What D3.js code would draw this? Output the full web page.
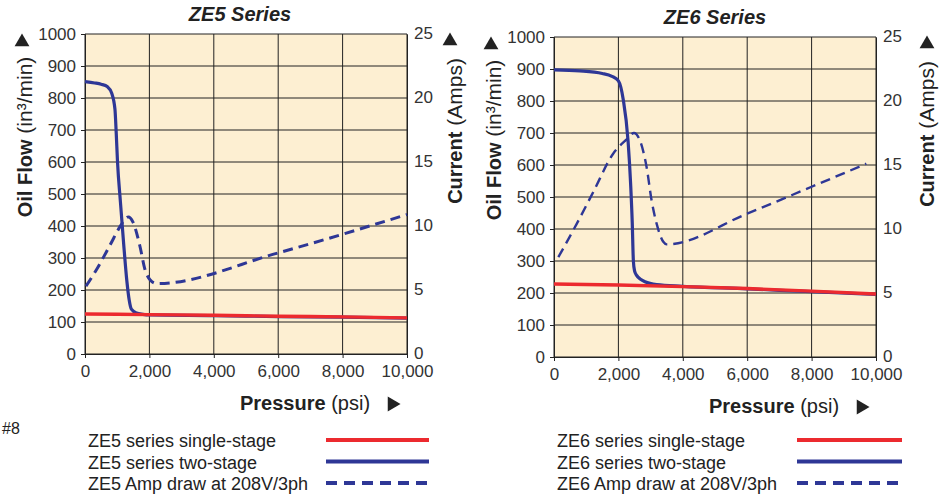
<!DOCTYPE html>
<html>
<head>
<meta charset="utf-8">
<script src="https://d3js.org/d3.v7.min.js"></script>
<style>
  body { margin: 0; background: #fff; }
  text { font-family: "Liberation Sans", Arial, sans-serif; }
</style>
</head>
<body>
<div id="chart"></div>
<script>
// tick values
var pressureTicks = [0, 2000, 4000, 6000, 8000, 10000];
var flowTicks = [0, 100, 200, 300, 400, 500, 600, 700, 800, 900, 1000];
var ampTicks = [0, 5, 10, 15, 20, 25];

// ZE5 series, [psi, value]
var ze5Single = [[0, 125], [2000, 123], [4000, 121], [6000, 118], [8000, 116], [10000, 113]];
var ze5Two = [[0, 851], [300, 847], [500, 843], [700, 835], [830, 815], [930, 765],
  [970, 690], [1010, 600], [1100, 475], [1200, 345], [1300, 228], [1370, 170],
  [1440, 140], [1600, 128], [1800, 124], [2000, 122], [4000, 120], [6000, 117],
  [8000, 115], [10000, 112]];
var ze5Amps = [[30, 5.3], [360, 6.6], [776, 8.5], [1087, 9.95], [1250, 10.55], [1346, 10.7],
  [1490, 10.3], [1708, 8.4], [1863, 6.6], [2019, 5.8], [2226, 5.5], [6000, 7.9], [10000, 10.9]];

// ZE6 series
var ze6Single = [[0, 228], [2000, 225], [4000, 220], [6000, 214], [8000, 206], [10000, 197]];
var ze6Two = [[0, 897], [800, 894], [1500, 886], [1800, 877], [2000, 863], [2150, 805],
  [2300, 675], [2380, 540], [2430, 420], [2465, 300], [2500, 270], [2567, 255],
  [2700, 242], [2826, 235], [3189, 226], [4000, 221], [6000, 213], [8000, 204], [10000, 196]];
var ze6Amps = [[134, 7.8], [705, 10.4], [1221, 12.9], [1842, 15.9], [2257, 17.0], [2484, 17.5],
  [2671, 16.9], [2878, 14.8], [3033, 12.2], [3189, 10.4], [3395, 9.0], [3500, 8.8],
  [6000, 11.2], [8000, 13.3], [9700, 15.1]];

var legendLabels5 = ["ZE5 series single-stage", "ZE5 series two-stage", "ZE5 Amp draw at 208V/3ph"];
var legendLabels6 = ["ZE6 series single-stage", "ZE6 series two-stage", "ZE6 Amp draw at 208V/3ph"];

var red = "#ec2a2f", blue = "#2e3796", bg = "#fdefd2", ink = "#222";

var svg = d3.select("#chart").append("svg")
  .attr("width", 948)
  .attr("height", 495);

function panel(o) {
  var x = d3.scaleLinear().domain([0, 10000]).range([o.x0, o.x1]);
  var y = d3.scaleLinear().domain([0, 1000]).range([o.y1, o.y0]);
  var ya = d3.scaleLinear().domain([0, 25]).range([o.y1, o.y0]);
  var g = svg.append("g");

  g.append("rect")
    .attr("x", o.x0).attr("y", o.y0)
    .attr("width", o.x1 - o.x0).attr("height", o.y1 - o.y0)
    .attr("fill", bg);

  // grid
  g.selectAll(".hg").data(flowTicks).enter().append("line")
    .attr("x1", o.x0).attr("x2", o.x1)
    .attr("y1", function(d) { return y(d); }).attr("y2", function(d) { return y(d); })
    .attr("stroke", ink).attr("stroke-width", 1);
  g.selectAll(".vg").data(pressureTicks).enter().append("line")
    .attr("y1", o.y0).attr("y2", o.y1)
    .attr("x1", function(d) { return x(d); }).attr("x2", function(d) { return x(d); })
    .attr("stroke", ink).attr("stroke-width", 1);

  // axes
  var la = g.append("g").attr("transform", "translate(" + o.x0 + ",0)")
    .call(d3.axisLeft(y).tickValues(flowTicks).tickSize(4).tickPadding(5).tickFormat(d3.format("d")));
  var ra = g.append("g").attr("transform", "translate(" + o.x1 + ",0)")
    .call(d3.axisRight(ya).tickValues(ampTicks).tickSize(0).tickPadding(7));
  var ba = g.append("g").attr("transform", "translate(0," + o.y1 + ")")
    .call(d3.axisBottom(x).tickValues(pressureTicks).tickSize(4).tickPadding(7).tickFormat(d3.format(",")));
  [la, ra, ba].forEach(function(a) {
    a.select(".domain").attr("stroke", ink);
    a.selectAll("line").attr("stroke", ink);
    a.selectAll("text").attr("font-size", 17).attr("fill", "#333")
      .style("font-family", "'Liberation Sans', Arial, sans-serif");
  });
  ra.selectAll(".tick text").attr("dy", "0.28em");

  // series
  var line = d3.line().x(function(d) { return x(d[0]); }).y(function(d) { return y(d[1]); })
    .curve(d3.curveMonotoneX);
  var aline = d3.line().x(function(d) { return x(d[0]); }).y(function(d) { return ya(d[1]); })
    .curve(d3.curveMonotoneX);

  g.append("path").datum(o.amps).attr("d", aline)
    .attr("fill", "none").attr("stroke", blue).attr("stroke-width", o.dashW)
    .attr("stroke-dasharray", "10,6");
  g.append("path").datum(o.two).attr("d", line)
    .attr("fill", "none").attr("stroke", blue).attr("stroke-width", 3.2);
  g.append("path").datum(o.single).attr("d", line)
    .attr("fill", "none").attr("stroke", red).attr("stroke-width", 3.4);

  // title
  g.append("text").attr("x", o.titleX).attr("y", o.titleY)
    .attr("text-anchor", "middle").attr("font-size", 20)
    .attr("font-weight", "bold").attr("font-style", "italic").attr("fill", ink)
    .text(o.title);

  // left axis title
  var lt = g.append("text")
    .attr("transform", "translate(" + (o.x0 - 53) + "," + (o.y0 + 103) + ") rotate(-90)")
    .attr("text-anchor", "middle").attr("fill", ink);
  lt.append("tspan").attr("font-size", 20).attr("font-weight", "bold").text("Oil Flow");
  lt.append("tspan").attr("font-size", 21).text(" (in³/min)");

  // right axis title
  var rt = g.append("text")
    .attr("transform", "translate(" + (o.x1 + o.rtOff) + "," + (o.y0 + 97) + ") rotate(-90)")
    .attr("text-anchor", "middle").attr("fill", ink);
  rt.append("tspan").attr("font-size", 20).attr("font-weight", "bold").text("Current");
  rt.append("tspan").attr("font-size", 21).text(" (Amps)");

  // arrows
  var tri = d3.symbol().type(d3.symbolTriangle).size(95);
  g.append("path").attr("d", tri).attr("fill", ink)
    .attr("transform", "translate(" + (o.x0 - 63) + "," + (o.y0 + 8) + ")");
  g.append("path").attr("d", tri).attr("fill", ink)
    .attr("transform", "translate(" + (o.x1 + o.arOff) + "," + (o.y0 + 7) + ")");

  // x title
  var xt = g.append("text").attr("x", o.x0 + 155).attr("y", o.y1 + 56).attr("fill", ink);
  xt.append("tspan").attr("font-size", 20).attr("font-weight", "bold").text("Pressure");
  xt.append("tspan").attr("font-size", 20).text(" (psi)");
  g.append("path").attr("d", tri).attr("fill", ink)
    .attr("transform", "translate(" + (o.x0 + 307) + "," + (o.y1 + 50) + ") rotate(90)");

  // legend
  var styles = [
    { c: red, w: 4, dash: null },
    { c: blue, w: 4, dash: null },
    { c: blue, w: 4, dash: "11,7" }
  ];
  o.legend.forEach(function(lbl, i) {
    var yy = 440 + i * 21.5;
    g.append("text").attr("x", o.legX).attr("y", yy + 7)
      .attr("font-size", 18).attr("fill", ink).text(lbl);
    g.append("line").attr("x1", o.legL0).attr("x2", o.legL1)
      .attr("y1", yy).attr("y2", yy)
      .attr("stroke", styles[i].c).attr("stroke-width", styles[i].w)
      .attr("stroke-dasharray", styles[i].dash);
  });
}

panel({
  x0: 85, x1: 407, y0: 34, y1: 354,
  title: "ZE5 Series", titleX: 240, titleY: 21,
  single: ze5Single, two: ze5Two, amps: ze5Amps, dashW: 3,
  rtOff: 55, arOff: 43,
  legend: legendLabels5, legX: 88, legL0: 326, legL1: 429
});
panel({
  x0: 554, x1: 876, y0: 37, y1: 357,
  title: "ZE6 Series", titleX: 715, titleY: 24,
  single: ze6Single, two: ze6Two, amps: ze6Amps, dashW: 2.4,
  rtOff: 58, arOff: 51,
  legend: legendLabels6, legX: 557, legL0: 797, legL1: 902
});

svg.append("text").attr("x", 2).attr("y", 434)
  .attr("font-size", 16).attr("fill", ink).text("#8");
</script>
</body>
</html>
